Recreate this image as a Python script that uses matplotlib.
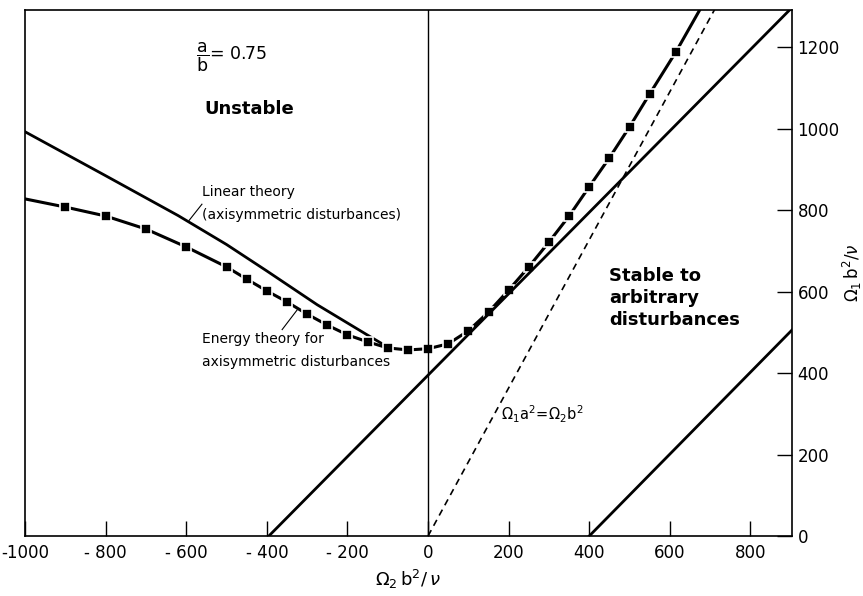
import numpy as np
import matplotlib
matplotlib.use("Agg")
import matplotlib.pyplot as plt

plt.rcParams['font.family'] = ['DejaVu Sans']
plt.rcParams['mathtext.fontset'] = 'dejavusans'

# energy theory for axisymmetric disturbances (markers)
energy_x = [-900, -800, -700, -600, -500, -450, -400, -350, -300, -250, -200, -150,
            -100, -50, 0, 50, 100, 150, 200, 250, 300, 350, 400, 450, 500, 550, 615]
energy_y = [808, 786, 754, 710, 661, 631, 602, 575, 545, 518, 494, 477,
            462, 457, 460, 472, 504, 550, 604, 661, 722, 786, 858, 929, 1005, 1086, 1189]
# curve ends beyond markers
energy_line_x = [-1000] + energy_x + [690]
energy_line_y = [828] + energy_y + [1320]

# linear theory (axisymmetric)
linear_x = [-1000, -800, -620, -500, -400, -275, -151, -100]
linear_y = [993, 885, 787, 716, 651, 568, 494, 464]

# energy bounds for arbitrary disturbances
upper_x = [-395, 903]
upper_y = [0, 1298]
lower_x = [400, 903]
lower_y = [0, 506]

# Rayleigh line  Omega1 a^2 = Omega2 b^2
rayl_x = [0, 712]
rayl_y = [0, 1295]

xticks = [-1000, -800, -600, -400, -200, 0, 200, 400, 600, 800]
xticklabels = ['-1000', '- 800', '- 600', '- 400', '- 200', '0', '200', '400', '600', '800']
yticks = [0, 200, 400, 600, 800, 1000, 1200]

fig = plt.figure(figsize=(8.63, 5.96), dpi=100)
ax = fig.add_axes([25/863, 1-536/596, (792-25)/863, (536-10)/596])
ax.set_xlim(-1000, 903)
ax.set_ylim(0, 1292)

ax.plot(linear_x, linear_y, color='black', lw=2)
ax.plot(energy_line_x, energy_line_y, color='black', lw=2.2)
ax.plot(energy_x, energy_y, 's', color='black', ms=6.5, mec='white', mew=1.2)
ax.plot(upper_x, upper_y, color='black', lw=2)
ax.plot(lower_x, lower_y, color='black', lw=2)
ax.plot(rayl_x, rayl_y, color='black', lw=1.2, dashes=(4, 3))
ax.axvline(0, color='black', lw=1)

# leader lines
ax.plot([-593, -561], [775, 815], color='black', lw=0.8)
ax.plot([-362, -325], [507, 555], color='black', lw=0.8)

ax.text(-575, 1175, r'$\dfrac{\mathregular{a}}{\mathregular{b}}$= 0.75', fontsize=12.5, va='center')
ax.text(-555, 1050, 'Unstable', fontsize=13, fontweight='bold', va='center')
ax.text(-560, 817, 'Linear theory\n(axisymmetric disturbances)', fontsize=10,
        va='center', linespacing=1.75)
ax.text(-560, 456, 'Energy theory for\naxisymmetric disturbances', fontsize=10,
        va='center', linespacing=1.8)
ax.text(450, 585, 'Stable to\narbitrary\ndisturbances', fontsize=13, fontweight='bold',
        va='center', linespacing=1.3)
ax.text(180, 300, r'$\Omega_1 \mathregular{a}^2\!=\!\Omega_2 \mathregular{b}^2$', fontsize=10.5, va='center')

ax.set_xticks(xticks)
ax.set_xticklabels(xticklabels, fontsize=12)
ax.yaxis.tick_right()
ax.yaxis.set_label_position('right')
ax.set_yticks(yticks)
ax.set_yticklabels([str(v) for v in yticks], fontsize=12)
ax.tick_params(axis='x', direction='in', length=11, width=1, pad=6)
ax.tick_params(axis='y', direction='in', length=11, width=1, pad=4)
for s in ax.spines.values():
    s.set_linewidth(1.2)

ax.set_xlabel(r'$\Omega_2\, \mathregular{b}^2/\,\nu$', fontsize=13, labelpad=4)
ax.set_ylabel(r'$\Omega_1\, \mathregular{b}^2/\nu$', fontsize=12, labelpad=1)

fig.savefig('out.png', dpi=100)
